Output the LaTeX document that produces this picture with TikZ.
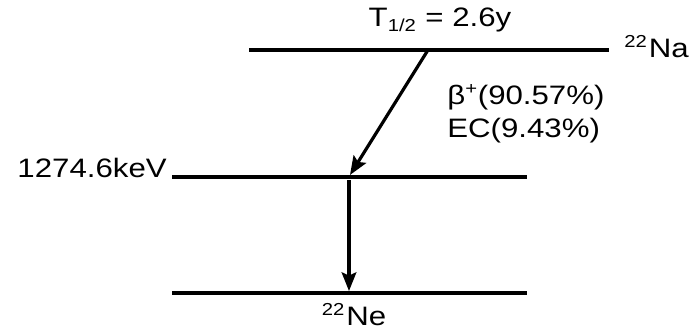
\documentclass[tikz,border=0pt]{standalone}
\usepackage{fontspec}
\setmainfont{Liberation Sans}
\usetikzlibrary{arrows.meta}

\newcommand{\smallidx}[1]{{\fontsize{13}{13}\selectfont #1}}

\tikzset{
  level/.style={line width=2.4pt},
  decay/.style={line width=2.4pt, -{Stealth[length=14pt, width=11pt, inset=2.5pt]}},
  lbl/.style={font=\fontsize{20}{24}\selectfont, inner sep=0pt, xscale=1.17, transform shape}
}

\begin{document}
\begin{tikzpicture}[x=0.75pt, y=0.75pt]
  \useasboundingbox (0,0) rectangle (691,334);

  % Levels
  \coordinate (naL) at (249,284);
  \coordinate (naR) at (609,284);
  \coordinate (exL) at (172,157);
  \coordinate (exR) at (527,157);
  \coordinate (gsL) at (172,41);
  \coordinate (gsR) at (527,41);
  \draw[level] (naL) -- (naR);
  \draw[level] (exL) -- (exR);
  \draw[level] (gsL) -- (gsR);

  % Labels
  \node[lbl, anchor=base west] (na) at (624,276) {\textsuperscript{\smallidx{22}}\kern0.8pt Na};
  \node[lbl, anchor=base] (half) at (440,307) {T\textsubscript{\smallidx{1/2}} = 2.6y};
  \node[lbl, anchor=base] (ne) at (354,8) {\textsuperscript{\smallidx{22}}\kern0.8pt Ne};
  \node[lbl, anchor=base east] (exE) at (167,156) {1274.6keV};
  \node[lbl, anchor=base west] (beta) at (447,229) {β\textsuperscript{\smallidx{+}}(90.57\%)};
  \node[lbl, anchor=base west] (ec) at (447,196) {EC(9.43\%)};

  % Transitions
  \coordinate (naOut) at (428,284);
  \coordinate (exIn) at (350,159);
  \coordinate (exOut) at (349,154);
  \coordinate (gsIn) at (349,43);
  \draw[decay] (naOut) -- (exIn);
  \draw[decay] (exOut) -- (gsIn);
\end{tikzpicture}
\end{document}
